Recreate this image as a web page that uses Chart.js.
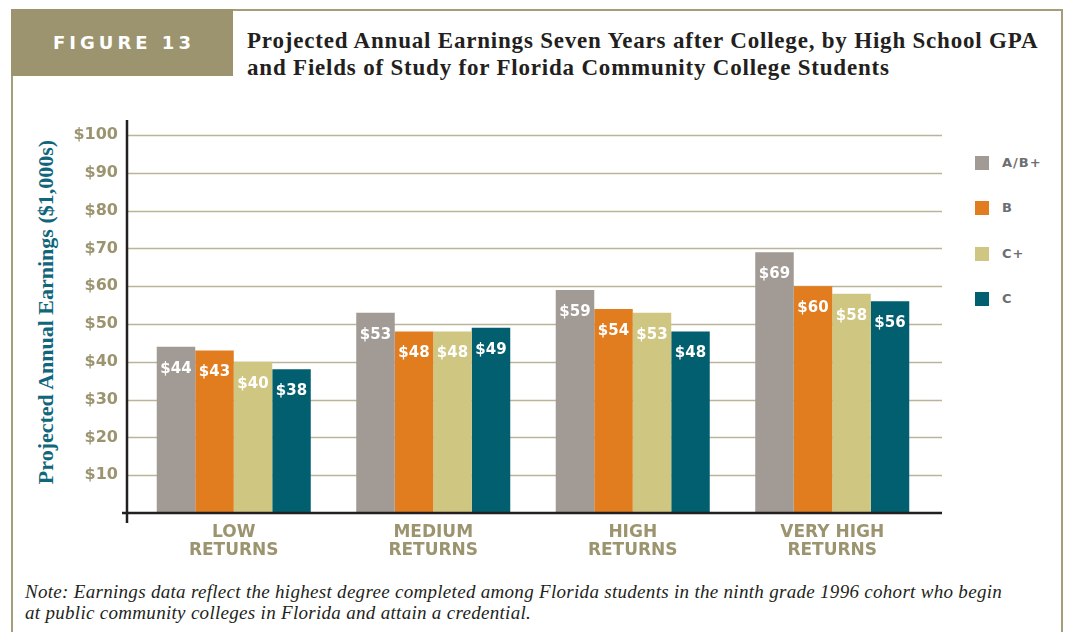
<!DOCTYPE html>
<html>
<head>
<meta charset="utf-8">
<script src="https://cdn.jsdelivr.net/npm/chart.js@4.4.1/dist/chart.umd.min.js"></script>
<style>
  html, body { margin: 0; padding: 0; background: #ffffff; }
  #page { position: relative; width: 1068px; height: 632px; overflow: hidden; background: #fff; }
  #frame { position: absolute; left: 11px; top: 9px; width: 1052px; height: 700px; border: 2px solid #a39d7b; box-sizing: border-box; }
  #figbox { position: absolute; left: 11px; top: 9px; width: 222px; height: 67px; background: #9b946f; }
  #figlabel { position: absolute; left: 13px; top: 9px; width: 222px; height: 67px; line-height: 67px; text-align: center; color: #fff;
              font-family: "DejaVu Sans", sans-serif; font-weight: bold; font-size: 18px; letter-spacing: 4px; }
  #title { position: absolute; left: 247px; top: 27px; font-family: "Liberation Serif", serif; font-weight: bold; font-size: 23px;
           letter-spacing: 0.8px; line-height: 27px; color: #231f20; white-space: nowrap; }
  #ytitle { position: absolute; left: 46px; top: 312px; transform: translate(-50%, -50%) rotate(-90deg); white-space: nowrap;
            font-family: "Liberation Serif", serif; font-weight: bold; font-size: 22px; color: #10667a; }
  #legend { position: absolute; left: 975px; top: 156px; }
  .li { position: absolute; left: 0; height: 14px; white-space: nowrap; }
  .sw { position: absolute; left: 0; top: 0; width: 14px; height: 14px; }
  .lt { position: absolute; left: 27px; top: -1px; font-family: "DejaVu Sans", sans-serif; font-weight: bold; font-size: 13px;
        letter-spacing: 1px; line-height: 16px; color: #6d6e71; }
  #note { position: absolute; left: 25px; top: 581px; font-family: "Liberation Serif", serif; font-style: italic; font-size: 19px;
          letter-spacing: 0.3px; line-height: 21px; color: #231f20; white-space: nowrap; }
  #c { position: absolute; left: 0; top: 0; }
</style>
</head>
<body>
<div id="page">
  <div id="frame"></div>
  <div id="figbox"></div>
  <div id="figlabel">FIGURE 13</div>
  <div id="title">Projected Annual Earnings Seven Years after College, by High School GPA<br>and Fields of Study for Florida Community College Students</div>
  <div id="ytitle">Projected Annual Earnings ($1,000s)</div>
  <div id="legend"></div>
  <div id="note">Note: Earnings data reflect the highest degree completed among Florida students in the ninth grade 1996 cohort who begin<br>at public community colleges in Florida and attain a credential.</div>
  <canvas id="c" width="1068" height="632"></canvas>
</div>
<script>
// ---- data ----
const categories = [["LOW", "RETURNS"], ["MEDIUM", "RETURNS"], ["HIGH", "RETURNS"], ["VERY HIGH", "RETURNS"]];
const seriesNames = ["A/B+", "B", "C+", "C"];
const gradeABPlus = [44, 53, 59, 69];
const gradeB = [43, 48, 54, 60];
const gradeCPlus = [40, 48, 53, 58];
const gradeC = [38, 49, 48, 56];
const yTickValues = [10, 20, 30, 40, 50, 60, 70, 80, 90, 100];
const seriesColors = ["#a29a95", "#e17c1f", "#cfc681", "#025f6f"];

const seriesValues = [gradeABPlus, gradeB, gradeCPlus, gradeC];

// HTML legend built from series arrays
const legendEl = document.getElementById("legend");
seriesNames.forEach((name, i) => {
  const d = document.createElement("div");
  d.className = "li";
  d.style.top = (i * 45.3) + "px";
  d.innerHTML = '<div class="sw" style="background:' + seriesColors[i] + '"></div><div class="lt">' + name + '</div>';
  legendEl.appendChild(d);
});

const OLIVE = "#9b946f";
const GRID = "#bab596";
const AXIS = "#231f20";

const decoPlugin = {
  id: "deco",
  beforeDatasetsDraw(chart) {
    const ctx = chart.ctx;
    const y = chart.scales.y;
    ctx.save();
    ctx.strokeStyle = GRID;
    ctx.lineWidth = 1.5;
    yTickValues.forEach(v => {
      const py = Math.round(y.getPixelForValue(v)) + 0.5;
      ctx.beginPath();
      ctx.moveTo(127, py);
      ctx.lineTo(942, py);
      ctx.stroke();
    });
    ctx.restore();
  },
  afterDatasetsDraw(chart) {
    const ctx = chart.ctx;
    const y = chart.scales.y;
    const zero = y.getPixelForValue(0);
    ctx.save();
    // value labels
    ctx.fillStyle = "#ffffff";
    ctx.font = "bold 15px 'DejaVu Sans'";
    ctx.textAlign = "center";
    ctx.textBaseline = "middle";
    chart.data.datasets.forEach((ds, di) => {
      const meta = chart.getDatasetMeta(di);
      meta.data.forEach((bar, i) => {
        ctx.fillText("$" + ds.data[i], bar.x, bar.y + 22);
      });
    });
    // axes
    ctx.strokeStyle = AXIS;
    ctx.lineWidth = 2.5;
    ctx.beginPath();
    ctx.moveTo(122, zero);
    ctx.lineTo(942, zero);
    ctx.stroke();
    ctx.beginPath();
    ctx.moveTo(127, 120);
    ctx.lineTo(127, zero + 10);
    ctx.stroke();
    ctx.restore();
  }
};

new Chart(document.getElementById("c"), {
  type: "bar",
  data: {
    labels: categories,
    datasets: seriesNames.map((name, i) => ({
      label: name,
      data: seriesValues[i],
      backgroundColor: seriesColors[i],
      borderWidth: 0,
      barPercentage: 1.0,
      categoryPercentage: 0.772
    }))
  },
  options: {
    responsive: false,
    animation: false,
    devicePixelRatio: 1,
    layout: { padding: { left: 0, right: 136, top: 135, bottom: 0 } },
    plugins: { legend: { display: false }, tooltip: { enabled: false } },
    scales: {
      x: {
        grid: { display: false },
        border: { display: false },
        ticks: { color: OLIVE, font: { family: "DejaVu Sans", weight: "bold", size: 17, lineHeight: "18px" }, padding: 3, maxRotation: 0 },
        afterFit: s => { s.height = 119; }
      },
      y: {
        min: 0, max: 100,
        grid: { display: false, drawTicks: false },
        border: { display: false },
        ticks: {
          stepSize: 10,
          padding: 16,
          color: OLIVE,
          font: { family: "DejaVu Sans", weight: "bold", size: 16 },
          callback: v => (v === 0 ? "" : "$" + v)
        },
        afterFit: s => { s.width = 134; }
      }
    }
  },
  plugins: [decoPlugin]
});
</script>
</body>
</html>
